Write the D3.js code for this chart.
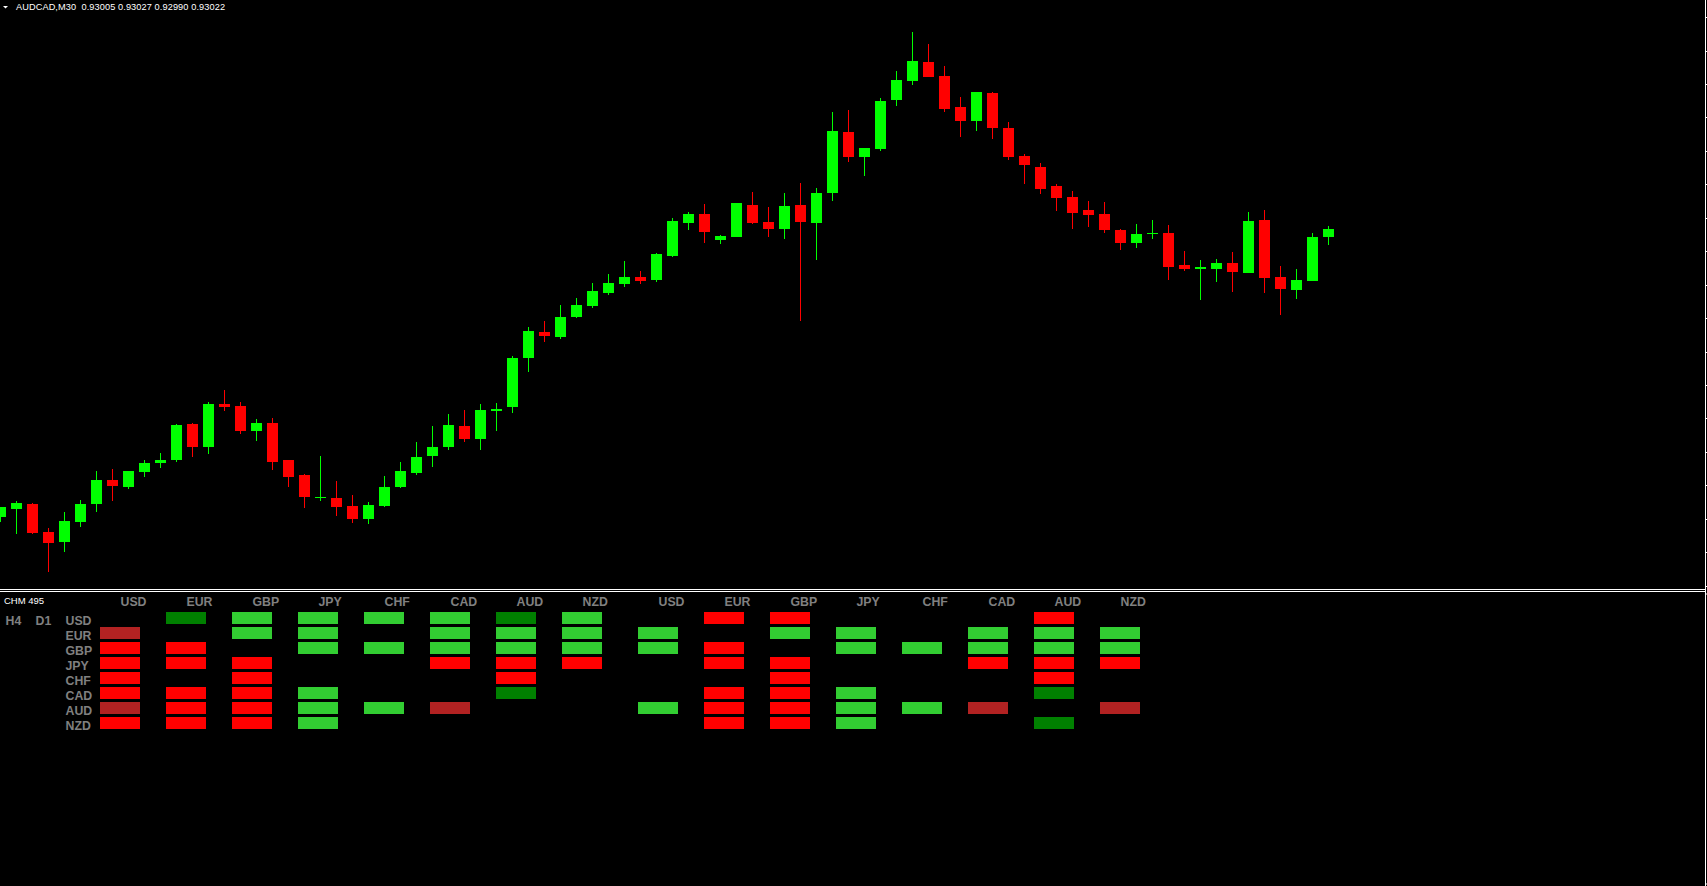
<!DOCTYPE html>
<html><head><meta charset="utf-8">
<script src="https://cdn.jsdelivr.net/npm/d3@7"></script>
<style>
html,body{margin:0;padding:0;background:#000;overflow:hidden}
svg{display:block}
text{white-space:pre}
</style>
</head><body>
<svg id="chart" width="1707" height="886"></svg>
<script>
// ---------------- DATA ----------------
const symbolTitle = "AUDCAD,M30";
const opens = [0.92446,0.92462,0.92472,0.92416,0.92396,0.92436,0.92472,0.92520,0.92506,0.92536,
0.92554,0.92560,0.92632,0.92586,0.92672,0.92668,0.92618,0.92634,0.92560,0.92530,
0.92484,0.92484,0.92468,0.92442,0.92468,0.92506,0.92534,0.92568,0.92586,0.92628,
0.92602,0.92658,0.92666,0.92764,0.92816,0.92806,0.92846,0.92868,0.92894,0.92912,
0.92926,0.92920,0.92968,0.93034,0.93052,0.93000,0.93006,0.93070,0.93036,0.93022,
0.93070,0.93034,0.93094,0.93216,0.93166,0.93182,0.93280,0.93318,0.93356,0.93328,
0.93266,0.93238,0.93294,0.93224,0.93168,0.93146,0.93108,0.93086,0.93060,0.93052,
0.93020,0.92994,0.93012,0.93014,0.92950,0.92942,0.92942,0.92954,0.92934,0.93040,
0.92926,0.92900,0.92918,0.93005];
const highs = [0.92466,0.92478,0.92474,0.92424,0.92456,0.92480,0.92538,0.92542,0.92538,0.92560,
0.92574,0.92632,0.92634,0.92676,0.92700,0.92676,0.92642,0.92644,0.92560,0.92532,
0.92568,0.92518,0.92490,0.92476,0.92528,0.92556,0.92596,0.92628,0.92652,0.92660,
0.92672,0.92674,0.92768,0.92826,0.92838,0.92870,0.92884,0.92914,0.92932,0.92958,
0.92938,0.92974,0.93044,0.93056,0.93072,0.93010,0.93074,0.93096,0.93066,0.93094,
0.93114,0.93104,0.93256,0.93260,0.93184,0.93284,0.93338,0.93416,0.93392,0.93348,
0.93286,0.93296,0.93296,0.93236,0.93172,0.93154,0.93112,0.93098,0.93078,0.93076,
0.93022,0.93032,0.93040,0.93030,0.92978,0.92960,0.92962,0.92976,0.93056,0.93060,
0.92948,0.92942,0.93014,0.93027];
const lows = [0.92436,0.92412,0.92412,0.92336,0.92376,0.92426,0.92456,0.92478,0.92502,0.92526,
0.92544,0.92556,0.92566,0.92572,0.92658,0.92612,0.92598,0.92540,0.92506,0.92464,
0.92478,0.92448,0.92434,0.92432,0.92466,0.92504,0.92530,0.92546,0.92580,0.92596,
0.92580,0.92618,0.92654,0.92736,0.92796,0.92802,0.92844,0.92864,0.92890,0.92906,
0.92912,0.92916,0.92966,0.93020,0.92994,0.92992,0.93006,0.93032,0.93006,0.93002,
0.92838,0.92960,0.93078,0.93156,0.93128,0.93178,0.93268,0.93310,0.93326,0.93256,
0.93206,0.93218,0.93202,0.93160,0.93112,0.93092,0.93058,0.93022,0.93026,0.93014,
0.92980,0.92984,0.93002,0.92920,0.92938,0.92880,0.92916,0.92896,0.92934,0.92894,
0.92850,0.92882,0.92918,0.92990];
const closes = [0.92466,0.92474,0.92414,0.92394,0.92438,0.92472,0.92520,0.92508,0.92538,0.92554,
0.92560,0.92630,0.92586,0.92672,0.92666,0.92618,0.92634,0.92556,0.92526,0.92486,
0.92486,0.92466,0.92442,0.92470,0.92506,0.92538,0.92566,0.92586,0.92630,0.92602,
0.92660,0.92662,0.92764,0.92818,0.92808,0.92846,0.92870,0.92898,0.92914,0.92926,
0.92918,0.92972,0.93038,0.93052,0.93016,0.93008,0.93074,0.93034,0.93022,0.93068,
0.93036,0.93094,0.93218,0.93166,0.93184,0.93278,0.93320,0.93358,0.93326,0.93262,
0.93238,0.93296,0.93224,0.93166,0.93150,0.93102,0.93084,0.93054,0.93050,0.93020,
0.92994,0.93012,0.93014,0.92946,0.92942,0.92946,0.92954,0.92936,0.93038,0.92924,
0.92902,0.92920,0.93006,0.93022];
const priceTicks = [0.93445,0.93378,0.93312,0.93245,0.93178,0.93111,0.93044,0.92977,0.92910,
0.92843,0.92776,0.92710,0.92643,0.92576,0.92509,0.92442,0.92375,0.92308];

const indicatorName = "CHM 495";
const currencies = ["USD","EUR","GBP","JPY","CHF","CAD","AUD","NZD"];
const timeframes = ["H4","D1"];
// 1 = strong up (lime), 2 = weak up (dark green), -1 = strong down (red), -2 = weak down (firebrick), 0 = none
const h4Matrix = [
  [0,2,1,1,1,1,2,1],
  [-2,0,1,1,0,1,1,1],
  [-1,-1,0,1,1,1,1,1],
  [-1,-1,-1,0,0,-1,-1,-1],
  [-1,0,-1,0,0,0,-1,0],
  [-1,-1,-1,1,0,0,2,0],
  [-2,-1,-1,1,1,-2,0,0],
  [-1,-1,-1,1,0,0,0,0]
];
const d1Matrix = [
  [0,-1,-1,0,0,0,-1,0],
  [1,0,1,1,0,1,1,1],
  [1,-1,0,1,1,1,1,1],
  [0,-1,-1,0,0,-1,-1,-1],
  [0,0,-1,0,0,0,-1,0],
  [0,-1,-1,1,0,0,2,0],
  [1,-1,-1,1,1,-2,0,-2],
  [0,-1,-1,1,0,0,2,0]
];

// ---------------- DRAW ----------------
const W = 1707, H = 886;
const svg = d3.select("#chart");
svg.append("rect").attr("width", W).attr("height", H).attr("fill", "#000");

const bullColor = "#00ff00", bearColor = "#ff0000";
const fontUI = "Tahoma, 'Liberation Sans', Arial, sans-serif";

const bars = opens.map((o, i) => ({i, o, h: highs[i], l: lows[i], c: closes[i]}));
const x = d3.scaleLinear().domain([0, 83]).range([0.5, 1328.5]);
const y = d3.scaleLinear().domain([0.93480, 0.92302]).rangeRound([0, 589]);

const plot = svg.append("g");
plot.append("clipPath").attr("id", "mainClip").append("rect")
  .attr("x", 0).attr("y", 0).attr("width", 1705).attr("height", 589);
const candles = plot.append("g").attr("clip-path", "url(#mainClip)")
  .selectAll("g").data(bars).join("g");

candles.append("line")
  .attr("x1", d => x(d.i)).attr("x2", d => x(d.i))
  .attr("y1", d => y(d.h)).attr("y2", d => y(d.l))
  .attr("stroke", d => d.c >= d.o ? bullColor : bearColor)
  .attr("stroke-width", 1);

candles.append("rect")
  .attr("x", d => x(d.i) - 5.5)
  .attr("width", 11)
  .attr("y", d => y(Math.max(d.o, d.c)))
  .attr("height", d => Math.max(1, y(Math.min(d.o, d.c)) - y(Math.max(d.o, d.c))))
  .attr("fill", d => d.c >= d.o ? bullColor : bearColor);

// title
svg.append("path").attr("d", "M3,6 L8,6 L5.5,8.5 Z").attr("fill", "#fff");
svg.append("text")
  .attr("x", 16).attr("y", 10)
  .attr("fill", "#fff")
  .attr("font-family", fontUI).attr("font-size", 9.2)
  .attr("textLength", 209).attr("lengthAdjust", "spacing")
  .text(symbolTitle + "  " + [opens[83], highs[83], lows[83], closes[83]].map(v => v.toFixed(5)).join(" "));

// right price axis (labels cut off)
svg.append("line").attr("x1", 1705.5).attr("x2", 1705.5).attr("y1", 0).attr("y2", H)
  .attr("stroke", "#fff").attr("stroke-width", 1);
const axisR = d3.axisRight(y).tickValues(priceTicks).tickSize(2).tickFormat(() => "");
const axG = svg.append("g").attr("transform", "translate(1705,0)").call(axisR);
axG.select(".domain").remove();
axG.selectAll(".tick line").attr("stroke", "#fff").attr("x1", 0.5).attr("x2", 2);

// separator
svg.append("line").attr("x1", 0).attr("x2", 1705).attr("y1", 589.5).attr("y2", 589.5).attr("stroke", "#fff");
svg.append("line").attr("x1", 0).attr("x2", 1705).attr("y1", 591.5).attr("y2", 591.5).attr("stroke", "#fff");

// sub-window axis ticks
const ySub = d3.scaleLinear().domain([1, 0]).range([593.5, 883.5]);
const axSub = svg.append("g").attr("transform", "translate(1705,0)")
  .call(d3.axisRight(ySub).tickValues([1, 0]).tickSize(2).tickFormat(() => ""));
axSub.select(".domain").remove();
axSub.selectAll(".tick line").attr("stroke", "#fff").attr("x1", 0.5).attr("x2", 2);

// ---------------- indicator panel ----------------
const gray = "#808080";
const cellColor = {"1": "#32cd32", "2": "#008000", "-1": "#ff0000", "-2": "#b22222"};
const labelFont = "'Liberation Sans', Arial, sans-serif";

svg.append("text").attr("x", 4).attr("y", 604)
  .attr("fill", "#fff").attr("font-family", fontUI).attr("font-size", 9.5)
  .text(indicatorName);

const rowY = d3.scaleBand().domain(currencies).range([612, 612 + 15 * 8]);
const blockX = d3.scaleOrdinal().domain(timeframes).range([100, 638]);
const colX = d3.scaleBand().domain(currencies).range([0, 66 * 8]);

// timeframe labels
svg.selectAll("text.tf").data(timeframes).join("text").attr("class", "tf")
  .attr("x", (d, i) => i === 0 ? 5.5 : 35.5).attr("y", rowY("USD") + 13)
  .attr("fill", gray).attr("font-family", labelFont).attr("font-weight", "bold").attr("font-size", 12.3)
  .text(d => d);

// row labels
svg.selectAll("text.rowlab").data(currencies).join("text").attr("class", "rowlab")
  .attr("x", 65.5).attr("y", d => rowY(d) + 13)
  .attr("fill", gray).attr("font-family", labelFont).attr("font-weight", "bold").attr("font-size", 12.3)
  .text(d => d);

const blocks = [{tf: "H4", m: h4Matrix}, {tf: "D1", m: d1Matrix}];
blocks.forEach(b => {
  const g = svg.append("g").attr("transform", `translate(${blockX(b.tf)},0)`);
  g.selectAll("text.colhead").data(currencies).join("text").attr("class", "colhead")
    .attr("x", d => colX(d) + 20.5).attr("y", 606)
    .attr("fill", gray).attr("font-family", labelFont).attr("font-weight", "bold").attr("font-size", 12.3)
    .text(d => d);
  const cells = [];
  b.m.forEach((row, r) => row.forEach((v, c) => { if (v !== 0) cells.push({r: currencies[r], c: currencies[c], v}); }));
  g.selectAll("rect.cell").data(cells).join("rect").attr("class", "cell")
    .attr("x", d => colX(d.c)).attr("y", d => rowY(d.r))
    .attr("width", 40).attr("height", 12)
    .attr("fill", d => cellColor[String(d.v)]);
});
</script>
</body></html>
